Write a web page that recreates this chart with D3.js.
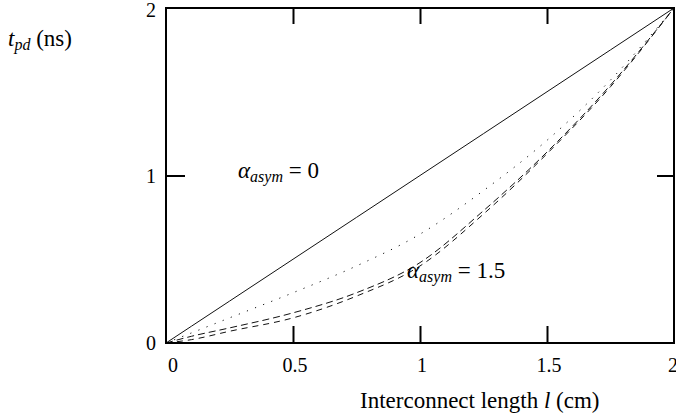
<!DOCTYPE html>
<html>
<head>
<meta charset="utf-8">
<script src="https://cdn.jsdelivr.net/npm/d3@7"></script>
<style>
  body { margin: 0; background: #fff; }
  svg { display: block; font-family: "Liberation Serif", "Times New Roman", serif; }
</style>
</head>
<body>
<div class="mydiv"></div>
<script>
var width = 676;
var height = 418;

// plot box on the img
var boxL = 166, boxR = 674, boxT = 8, boxB = 343;

// values
var xTicks = [0, 0.5, 1, 1.5, 2];
var yTicks = [0, 1, 2];
var lengths = [0, 0.1, 0.25, 0.5, 0.75, 1, 1.25, 1.5, 1.75, 2];
var linear = [0, 0.1, 0.25, 0.5, 0.75, 1, 1.25, 1.5, 1.75, 2];
var dotted = [0, 0.06, 0.15, 0.30, 0.46, 0.65, 0.91, 1.21, 1.57, 2];
var dashedA = [0, 0.04, 0.09, 0.18, 0.30, 0.48, 0.79, 1.14, 1.54, 2];
var dashedB = [0, 0.02, 0.07, 0.15, 0.28, 0.46, 0.77, 1.13, 1.53, 2];

var x = d3.scaleLinear().domain([0, 2]).range([boxL, boxR]);
var y = d3.scaleLinear().domain([0, 2]).range([boxB, boxT]);

var svg = d3.select(".mydiv")
	.append("svg")
	.attr("width", width)
	.attr("height", height);

var line = d3.line()
	.x(function(d) { return x(d[0]); })
	.y(function(d) { return y(d[1]); })
	.curve(d3.curveMonotoneX);

function pts(vals) {
	return lengths.map(function(l, i) { return [l, vals[i]]; });
}

var series = [
	{ vals: linear, dash: null },
	{ vals: dotted, dash: "1.2,7.5" },
	{ vals: dashedA, dash: "7,4" },
	{ vals: dashedB, dash: "6,5" }
];

svg.selectAll("path.curve")
	.data(series)
	.enter()
	.append("path")
	.attr("class", "curve")
	.attr("d", function(d) { return line(pts(d.vals)); })
	.attr("fill", "none")
	.attr("stroke", "#111")
	.attr("stroke-width", 1)
	.attr("stroke-dasharray", function(d) { return d.dash; });

// frame
svg.append("rect")
	.attr("x", boxL)
	.attr("y", boxT)
	.attr("width", boxR - boxL)
	.attr("height", boxB - boxT)
	.attr("fill", "none")
	.attr("stroke", "#000")
	.attr("stroke-width", 2);

// inward ticks
var inner = [0.5, 1, 1.5];
var bAxis = svg.append("g")
	.attr("transform", "translate(0," + boxB + ")")
	.call(d3.axisBottom(x).tickValues(inner).tickSize(-17).tickFormat(""));
var tAxis = svg.append("g")
	.attr("transform", "translate(0," + boxT + ")")
	.call(d3.axisTop(x).tickValues(inner).tickSize(-16).tickFormat(""));
var lAxis = svg.append("g")
	.attr("transform", "translate(" + boxL + ",0)")
	.call(d3.axisLeft(y).tickValues([1]).tickSize(-19).tickFormat(""));
var rAxis = svg.append("g")
	.attr("transform", "translate(" + boxR + ",0)")
	.call(d3.axisRight(y).tickValues([1]).tickSize(-17).tickFormat(""));
[bAxis, tAxis, lAxis, rAxis].forEach(function(g) {
	g.select(".domain").remove();
	g.selectAll(".tick line").attr("stroke", "#000").attr("stroke-width", 2);
});

// tick labels
svg.selectAll("text.xlab")
	.data(xTicks)
	.enter()
	.append("text")
	.attr("class", "xlab")
	.attr("x", function(d) { return d === 2 ? 668 : x(d) + (d === 0 ? 7 : 2); })
	.attr("y", 372)
	.attr("text-anchor", function(d) { return d === 2 ? "start" : "middle"; })
	.attr("font-size", 20)
	.text(function(d) { return d; });

svg.selectAll("text.ylab")
	.data(yTicks)
	.enter()
	.append("text")
	.attr("class", "ylab")
	.attr("x", boxL - 10)
	.attr("y", function(d) { return Math.max(y(d) + 7, 17); })
	.attr("text-anchor", "end")
	.attr("font-size", 20)
	.text(function(d) { return d; });

// axis titles
var yt = svg.append("text").attr("x", 8).attr("y", 46).attr("font-size", 23);
yt.append("tspan").attr("font-style", "italic").text("t");
yt.append("tspan").attr("font-style", "italic").attr("font-size", 16).attr("dy", 4).text("pd");
yt.append("tspan").attr("dy", -4).text(" (ns)");

var xt = svg.append("text").attr("x", 360).attr("y", 408).attr("font-size", 23);
xt.append("tspan").text("Interconnect length ");
xt.append("tspan").attr("font-style", "italic").text("l");
xt.append("tspan").text(" (cm)");

// annotations
function alphaLabel(px, py, val) {
	var t = svg.append("text").attr("x", px).attr("y", py).attr("font-size", 23);
	t.append("tspan").attr("font-style", "italic").text("\u03b1");
	t.append("tspan").attr("font-style", "italic").attr("font-size", 16).attr("dy", 4).text("asym");
	t.append("tspan").attr("dy", -4).text(" = " + val);
}
alphaLabel(238, 178, "0");
alphaLabel(407, 278, "1.5");
</script>
</body>
</html>
